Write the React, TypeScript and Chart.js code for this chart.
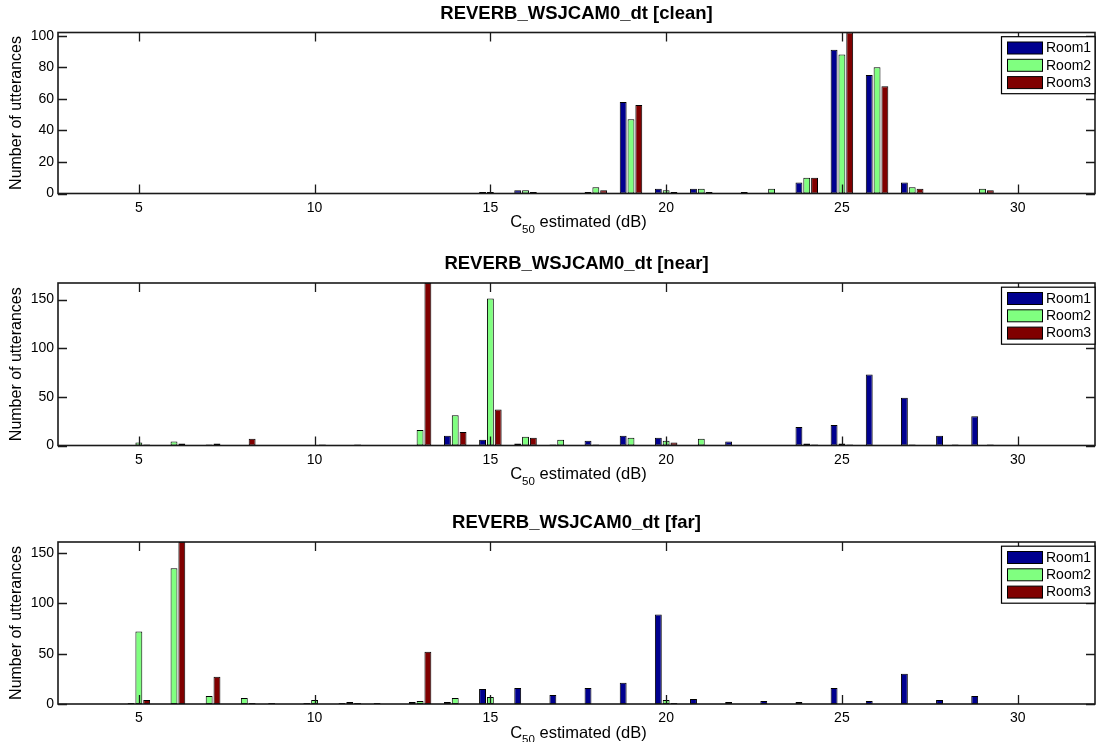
import React, { useEffect, useRef } from "react";
import { Chart, registerables } from "chart.js";

Chart.register(...registerables);

// ---- data -------------------------------------------------------------
const BINS = [3, 4, 5, 6, 7, 8, 9, 10, 11, 12, 13, 14, 15, 16, 17, 18, 19, 20, 21, 22, 23, 24, 25, 26, 27, 28, 29, 30, 31, 32];
const SERIES_NAMES = ["Room1", "Room2", "Room3"];
const X_TICKS = [5, 10, 15, 20, 25, 30];

const CLEAN_ROOM1 = [0, 0, 0, 0, 0, 0, 0, 0, 0, 0, 0, 0, 1, 2, 0, 1, 58, 3, 3, 0, 0, 7, 91, 75, 7, 0, 0, 0, 0, 0];
const CLEAN_ROOM2 = [0, 0, 0, 0, 0, 0, 0, 0, 0, 0, 0, 0, 1, 2, 0, 4, 47, 2, 3, 0, 3, 10, 88, 80, 4, 0, 3, 0, 0, 0];
const CLEAN_ROOM3 = [0, 0, 0, 0, 0, 0, 0, 0, 0, 0, 0, 0, 0, 1, 0, 2, 56, 1, 1, 1, 0, 10, 102, 68, 3, 0, 2, 0, 0, 0];
const CLEAN_Y_TICKS = [0, 20, 40, 60, 80, 100];
const CLEAN_Y_MAX = 102;

const NEAR_ROOM1 = [0, 0, 0, 0, 0, 0, 0, 0, 0, 0, 0, 10, 6, 2, 1, 5, 10, 8, 0, 4, 0, 19, 21, 73, 49, 10, 30, 0, 0, 0];
const NEAR_ROOM2 = [0, 0, 3, 4, 1, 0, 0, 0, 0, 0, 16, 31, 151, 9, 6, 1, 8, 5, 7, 0, 0, 2, 2, 0, 1, 0, 0, 0, 0, 0];
const NEAR_ROOM3 = [0, 0, 1, 2, 2, 7, 0, 1, 1, 0, 167, 14, 37, 8, 0, 0, 0, 3, 0, 0, 0, 1, 1, 0, 0, 1, 1, 0, 0, 0];
const NEAR_Y_TICKS = [0, 50, 100, 150];
const NEAR_Y_MAX = 167;

const FAR_ROOM1 = [0, 0, 1, 0, 0, 0, 1, 1, 1, 1, 2, 2, 15, 16, 9, 16, 21, 89, 5, 2, 3, 2, 16, 3, 30, 4, 8, 0, 0, 0];
const FAR_ROOM2 = [0, 0, 72, 135, 8, 6, 0, 4, 2, 0, 3, 6, 7, 0, 0, 0, 0, 4, 0, 0, 0, 0, 0, 0, 0, 0, 0, 0, 0, 0];
const FAR_ROOM3 = [0, 0, 4, 161, 27, 1, 0, 0, 1, 0, 52, 0, 0, 0, 0, 0, 0, 1, 0, 0, 0, 0, 0, 0, 0, 0, 0, 0, 0, 0];
const FAR_Y_TICKS = [0, 50, 100, 150];
const FAR_Y_MAX = 161;

// ---- style ------------------------------------------------------------
const FONT = "'Liberation Sans', Arial, Helvetica, sans-serif";
const COLORS = ["#00008f", "#80ff80", "#800000"];
const X_MIN = 2.7;
const X_MAX = 32.2;

type PanelDef = {
  title: string;
  series: number[][];
  yTicks: number[];
  yMax: number;
  top: number;
  height: number;
  plotTop: number;
  plotBottom: number;
};

const PANELS: PanelDef[] = [
  { title: "REVERB_WSJCAM0_dt [clean]", series: [CLEAN_ROOM1, CLEAN_ROOM2, CLEAN_ROOM3], yTicks: CLEAN_Y_TICKS, yMax: CLEAN_Y_MAX, top: 0, height: 245, plotTop: 32.5, plotBottom: 193.5 },
  { title: "REVERB_WSJCAM0_dt [near]", series: [NEAR_ROOM1, NEAR_ROOM2, NEAR_ROOM3], yTicks: NEAR_Y_TICKS, yMax: NEAR_Y_MAX, top: 250, height: 245, plotTop: 33, plotBottom: 195.5 },
  { title: "REVERB_WSJCAM0_dt [far]", series: [FAR_ROOM1, FAR_ROOM2, FAR_ROOM3], yTicks: FAR_Y_TICKS, yMax: FAR_Y_MAX, top: 509, height: 233, plotTop: 33, plotBottom: 195 },
];

const TITLE_SIZE = 18.5;
const TITLE_LH = TITLE_SIZE * 1.2;

const matlabDecor = {
  id: "matlabDecor",
  afterDatasetsDraw(chart: any) {
    const { ctx, chartArea: a, scales } = chart;
    const tl = 9;
    ctx.save();
    ctx.strokeStyle = "#1a1a1a";
    ctx.lineWidth = 1.3;
    ctx.beginPath();
    scales.x.ticks.forEach((t: any) => {
      const px = Math.round(scales.x.getPixelForValue(t.value)) + 0.5;
      ctx.moveTo(px, a.bottom);
      ctx.lineTo(px, a.bottom - tl);
      ctx.moveTo(px, a.top);
      ctx.lineTo(px, a.top + tl);
    });
    scales.y.ticks.forEach((t: any) => {
      const py = Math.round(scales.y.getPixelForValue(t.value)) + 0.5;
      ctx.moveTo(a.left, py);
      ctx.lineTo(a.left + tl, py);
      ctx.moveTo(a.right, py);
      ctx.lineTo(a.right - tl, py);
    });
    ctx.stroke();
    ctx.lineWidth = 1.6;
    ctx.strokeRect(a.left, a.top, a.right - a.left, a.bottom - a.top);
    ctx.restore();
  },
  afterDraw(chart: any) {
    const { ctx, chartArea: a } = chart;
    ctx.save();
    // legend
    const bx = 1001.5;
    const by = a.top + 4.2;
    const bw = 1096 - bx - 1;
    const bh = 57;
    ctx.fillStyle = "#fff";
    ctx.fillRect(bx, by, bw, bh);
    ctx.strokeStyle = "#000";
    ctx.lineWidth = 1.2;
    ctx.strokeRect(bx, by, bw, bh);
    chart.data.datasets.forEach((ds: any, i: number) => {
      const cy = a.top + 15.5 + i * 17.3;
      ctx.fillStyle = ds.backgroundColor;
      ctx.fillRect(1007.5, cy - 6, 35, 12);
      ctx.lineWidth = 1;
      ctx.strokeStyle = "#000";
      ctx.strokeRect(1007.5, cy - 6, 35, 12);
      ctx.fillStyle = "#000";
      ctx.font = `14px ${FONT}`;
      ctx.textAlign = "left";
      ctx.textBaseline = "middle";
      ctx.fillText(ds.label, 1046, cy + 0.5);
    });
    // x label with subscript
    const main = `16.5px ${FONT}`;
    const sub = `11.5px ${FONT}`;
    ctx.font = main;
    const wC = ctx.measureText("C").width;
    const wRest = ctx.measureText(" estimated (dB)").width;
    ctx.font = sub;
    const wSub = ctx.measureText("50").width;
    const total = wC + wSub + wRest;
    const cx = (a.left + a.right) / 2 + 2;
    let x = cx - total / 2;
    ctx.fillStyle = "#000";
    ctx.textAlign = "left";
    ctx.textBaseline = "middle";
    ctx.font = main;
    ctx.fillText("C", x, a.bottom + 29);
    x += wC;
    ctx.font = sub;
    ctx.fillText("50", x, a.bottom + 36);
    x += wSub;
    ctx.font = main;
    ctx.fillText(" estimated (dB)", x, a.bottom + 29);
    ctx.restore();
  },
};

function PanelChart({ panel }: { panel: PanelDef }) {
  const ref = useRef<HTMLCanvasElement | null>(null);
  useEffect(() => {
    if (!ref.current) return;
    const datasets = panel.series.map((vals, i) => ({
      label: SERIES_NAMES[i],
      data: BINS.map((b, j) => ({ x: b, y: vals[j] })),
      backgroundColor: COLORS[i],
      borderColor: "#000",
      borderWidth: 1,
      borderSkipped: false,
      categoryPercentage: 0.667,
      barPercentage: 0.88,
    }));
    const xHeight = panel.height - panel.plotBottom;
    const chart = new Chart(ref.current, {
      type: "bar",
      data: { datasets } as any,
      options: {
        responsive: false,
        animation: false,
        events: [],
        layout: { padding: { left: 0, right: 1, top: 0, bottom: 0 } },
        scales: {
          x: {
            type: "linear",
            min: X_MIN,
            max: X_MAX,
            offset: false,
            bounds: "data",
            grid: { display: false, drawTicks: false },
            border: { display: false },
            ticks: {
              color: "#000",
              font: { family: FONT, size: 14 },
              padding: 6,
              maxRotation: 0,
              autoSkip: false,
            },
            afterBuildTicks: (s: any) => {
              s.ticks = X_TICKS.map((v) => ({ value: v }));
            },
            afterFit: (s: any) => {
              s.height = xHeight;
            },
          },
          y: {
            type: "linear",
            min: 0,
            max: panel.yMax,
            grid: { display: false, drawTicks: false },
            border: { display: false },
            ticks: {
              color: "#000",
              font: { family: FONT, size: 14 },
              padding: 4,
            },
            afterBuildTicks: (s: any) => {
              s.ticks = panel.yTicks.map((v) => ({ value: v }));
            },
            afterFit: (s: any) => {
              s.width = 58;
            },
            title: {
              display: true,
              text: "Number of utterances",
              color: "#000",
              font: { family: FONT, size: 16 },
              padding: { top: 7, bottom: 0 },
            },
          },
        } as any,
        plugins: {
          legend: { display: false },
          tooltip: { enabled: false },
          title: {
            display: true,
            text: panel.title,
            fullSize: false,
            color: "#000",
            font: { family: FONT, size: TITLE_SIZE, weight: "bold" },
            padding: { top: 2.9, bottom: panel.plotTop - 2.9 - TITLE_LH },
          },
        } as any,
      },
      plugins: [matlabDecor],
    });
    return () => chart.destroy();
  }, [panel]);
  return (
    <canvas
      ref={ref}
      width={1096}
      height={panel.height}
      style={{ position: "absolute", left: 0, top: panel.top, width: 1096, height: panel.height }}
    />
  );
}

export default function App() {
  return (
    <div style={{ position: "fixed", left: 0, top: 0, width: 1096, height: 742, background: "#fff", overflow: "hidden" }}>
      {PANELS.map((p) => (
        <PanelChart key={p.title} panel={p} />
      ))}
    </div>
  );
}
